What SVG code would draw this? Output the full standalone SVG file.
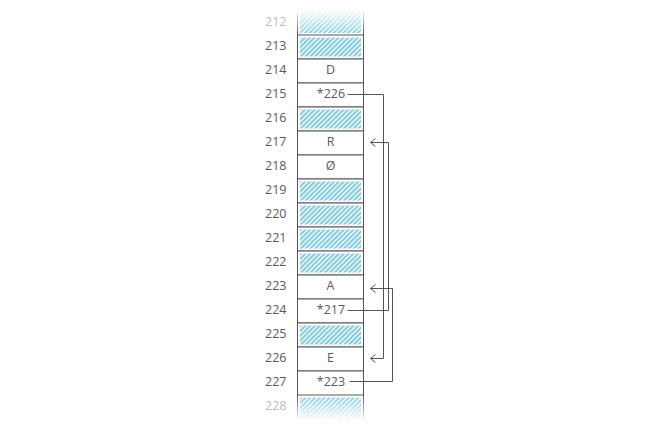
<svg xmlns="http://www.w3.org/2000/svg" width="651" height="434" viewBox="0 0 651 434">
<style>
.lbl{font-family:"Open Sans","Liberation Sans",sans-serif;font-size:12.5px;fill:#595959;text-anchor:end}
.fade{fill:#bbb}
.val{font-family:"Open Sans","Liberation Sans",sans-serif;font-size:12.5px;fill:#595959;text-anchor:middle}
.cell{fill:#fff;stroke:#555;stroke-width:1}
.hatch{fill:url(#hp)}
.conn{fill:none;stroke:#555;stroke-width:1}
</style>
<defs>
<pattern id="hp" patternUnits="userSpaceOnUse" width="3.4" height="10" patternTransform="rotate(45)">
<rect width="3.4" height="10" fill="#eaf7fb"/>
<rect width="1.8" height="10" fill="#80c9df"/>
</pattern>
<marker id="ah" markerUnits="userSpaceOnUse" markerWidth="12" markerHeight="12" viewBox="-6 -6 12 12" refX="0" refY="0" orient="auto">
<path d="M-5,-4 L0,0 L-5,4" fill="none" stroke="#555" stroke-width="1"/>
</marker>
<linearGradient id="gTop" gradientUnits="userSpaceOnUse" x1="0" y1="9" x2="0" y2="35">
<stop offset="0" stop-color="#000"/>
<stop offset="1" stop-color="#fff"/>
</linearGradient>
<linearGradient id="gBot" gradientUnits="userSpaceOnUse" x1="0" y1="395" x2="0" y2="421">
<stop offset="0" stop-color="#fff"/>
<stop offset="1" stop-color="#000"/>
</linearGradient>
<mask id="mTop" maskUnits="userSpaceOnUse" x="0" y="0" width="651" height="434"><rect x="0" y="0" width="651" height="36" fill="url(#gTop)"/></mask>
<mask id="mBot" maskUnits="userSpaceOnUse" x="0" y="0" width="651" height="434"><rect x="0" y="395" width="651" height="39" fill="url(#gBot)"/></mask>
</defs>
<rect width="651" height="434" fill="#fff"/>

<g id="r212">
<g mask="url(#mTop)">
<rect x="300" y="11" width="61" height="22" class="hatch"/>
<path d="M297.5 9V35M363.5 9V35" stroke="#555" stroke-width="1"/>
</g>
<text x="286.5" y="26" class="lbl fade">212</text>
</g>
<g id="r213"><rect x="297.5" y="35" width="66" height="24" class="cell"/><rect x="300" y="37.5" width="61" height="19" class="hatch"/><text x="286.5" y="50" class="lbl">213</text></g>
<g id="r214"><rect x="297.5" y="59" width="66" height="24" class="cell"/><text x="330.5" y="74" class="val">D</text><text x="286.5" y="74" class="lbl">214</text></g>
<g id="r215"><rect x="297.5" y="83" width="66" height="24" class="cell"/><text x="331" y="98" class="val">*226</text><text x="286.5" y="98" class="lbl">215</text></g>
<g id="r216"><rect x="297.5" y="107" width="66" height="24" class="cell"/><rect x="300" y="109.5" width="61" height="19" class="hatch"/><text x="286.5" y="122" class="lbl">216</text></g>
<g id="r217"><rect x="297.5" y="131" width="66" height="24" class="cell"/><text x="330.5" y="146" class="val">R</text><text x="286.5" y="146" class="lbl">217</text></g>
<g id="r218"><rect x="297.5" y="155" width="66" height="24" class="cell"/><text x="330.5" y="170" class="val">Ø</text><text x="286.5" y="170" class="lbl">218</text></g>
<g id="r219"><rect x="297.5" y="179" width="66" height="24" class="cell"/><rect x="300" y="181.5" width="61" height="19" class="hatch"/><text x="286.5" y="194" class="lbl">219</text></g>
<g id="r220"><rect x="297.5" y="203" width="66" height="24" class="cell"/><rect x="300" y="205.5" width="61" height="19" class="hatch"/><text x="286.5" y="218" class="lbl">220</text></g>
<g id="r221"><rect x="297.5" y="227" width="66" height="24" class="cell"/><rect x="300" y="229.5" width="61" height="19" class="hatch"/><text x="286.5" y="242" class="lbl">221</text></g>
<g id="r222"><rect x="297.5" y="251" width="66" height="24" class="cell"/><rect x="300" y="253.5" width="61" height="19" class="hatch"/><text x="286.5" y="266" class="lbl">222</text></g>
<g id="r223"><rect x="297.5" y="275" width="66" height="24" class="cell"/><text x="330.5" y="290" class="val">A</text><text x="286.5" y="290" class="lbl">223</text></g>
<g id="r224"><rect x="297.5" y="299" width="66" height="24" class="cell"/><text x="331" y="314" class="val">*217</text><text x="286.5" y="314" class="lbl">224</text></g>
<g id="r225"><rect x="297.5" y="323" width="66" height="24" class="cell"/><rect x="300" y="325.5" width="61" height="19" class="hatch"/><text x="286.5" y="338" class="lbl">225</text></g>
<g id="r226"><rect x="297.5" y="347" width="66" height="24" class="cell"/><text x="330.5" y="362" class="val">E</text><text x="286.5" y="362" class="lbl">226</text></g>
<g id="r227"><rect x="297.5" y="371" width="66" height="24" class="cell"/><text x="331" y="386" class="val">*223</text><text x="286.5" y="386" class="lbl">227</text></g>
<g id="r228">
<g mask="url(#mBot)">
<rect x="300" y="397.5" width="61" height="22" class="hatch"/>
<path d="M297.5 395V421M363.5 395V421" stroke="#555" stroke-width="1"/>
</g>
<text x="286.5" y="410" class="lbl fade">228</text>
</g>

<g id="connectors">
<path class="conn" d="M347.5 94.5H383.5V358.5H370.5" marker-end="url(#ah)"/>
<path class="conn" d="M347.5 310.5H388.5V142.5H370.5" marker-end="url(#ah)"/>
<path class="conn" d="M349.5 381.5H392.5V288.5H370.5" marker-end="url(#ah)"/>
</g>
</svg>
